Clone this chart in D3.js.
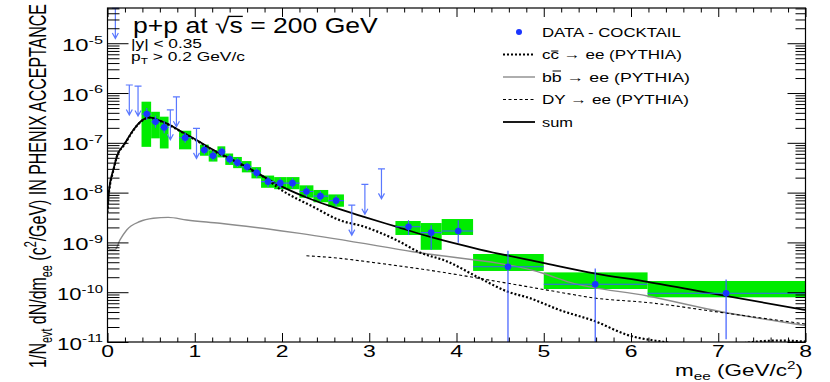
<!DOCTYPE html>
<html>
<head>
<meta charset="utf-8">
<script src="https://cdn.jsdelivr.net/npm/d3@7/dist/d3.min.js"></script>
<style>
  body { margin: 0; background: #fff; }
  text { font-family: "Liberation Sans", Arial, Helvetica, sans-serif; fill: #000; }
</style>
</head>
<body>
<svg id="chart" width="830" height="382"></svg>
<script>
//============================================================
// Data
//------------------------------------------------------------

// DATA - COCKTAIL points
var massPts  = [0.45, 0.55, 0.65, 0.89, 1.11, 1.21, 1.31, 1.40, 1.49, 1.60, 1.71, 1.84, 1.98, 2.12, 2.28, 2.44, 2.62, 3.45, 3.71, 4.02, 4.59, 5.59, 7.09];
var binLo    = [0.39, 0.50, 0.60, 0.82, 1.06, 1.16, 1.26, 1.35, 1.44, 1.54, 1.65, 1.76, 1.91, 2.05, 2.20, 2.36, 2.53, 3.30, 3.59, 3.83, 4.19, 5.00, 6.19];
var binHi    = [0.50, 0.60, 0.70, 0.96, 1.16, 1.26, 1.35, 1.44, 1.54, 1.65, 1.76, 1.91, 2.05, 2.20, 2.36, 2.53, 2.71, 3.59, 3.83, 4.19, 5.00, 6.19, 8.00];
var yieldPts = [3.8e-7, 2.65e-7, 2.04e-7, 1.26e-7, 7.2e-8, 5.5e-8, 6.6e-8, 4.7e-8, 4.0e-8, 3.3e-8, 2.5e-8, 1.66e-8, 1.55e-8, 1.55e-8, 1.05e-8, 8.5e-9, 6.9e-9, 2.07e-9, 1.57e-9, 1.70e-9, 3.25e-10, 1.44e-10, 9.5e-11];
var statHi   = [5.0e-7, 3.5e-7, 2.7e-7, 1.6e-7, 9.0e-8, 6.9e-8, 8.1e-8, 5.8e-8, 4.9e-8, 4.0e-8, 3.1e-8, 2.1e-8, 1.95e-8, 1.95e-8, 1.33e-8, 1.08e-8, 8.8e-9, 2.8e-9, 2.2e-9, 2.8e-9, 6.8e-10, 3.0e-10, 1.8e-10];
var statLo   = [2.9e-7, 2.0e-7, 1.55e-7, 1.0e-7, 5.8e-8, 4.4e-8, 5.4e-8, 3.8e-8, 3.3e-8, 2.7e-8, 2.0e-8, 1.3e-8, 1.22e-8, 1.22e-8, 8.3e-9, 6.7e-9, 5.4e-9, 1.41e-9, 7.1e-10, 9.8e-10, 1e-12, 1e-12, 1.13e-11];
var sysHi    = [6.7e-7, 4.2e-7, 3.35e-7, 1.75e-7, 9.2e-8, 7.1e-8, 8.5e-8, 6.1e-8, 5.2e-8, 4.3e-8, 3.25e-8, 2.2e-8, 2.05e-8, 2.05e-8, 1.4e-8, 1.13e-8, 9.2e-9, 2.69e-9, 2.45e-9, 2.95e-9, 5.85e-10, 2.5e-10, 1.68e-10];
var sysLo    = [8.3e-8, 1.23e-7, 7.7e-8, 7.4e-8, 5.5e-8, 4.2e-8, 5.1e-8, 3.6e-8, 3.1e-8, 2.55e-8, 1.93e-8, 1.25e-8, 1.17e-8, 1.17e-8, 7.9e-9, 6.4e-9, 5.2e-9, 1.41e-9, 7.1e-10, 1.41e-9, 2.67e-10, 1.16e-10, 7.9e-11];

// upper limits
var ulMass  = [0.09, 0.25, 0.35, 0.72, 0.79, 1.02, 2.80, 2.95, 3.14];
var ulValue = [5.0e-5, 1.45e-6, 1.38e-6, 4.6e-7, 8.4e-7, 1.95e-7, 5.6e-9, 1.47e-8, 3.0e-8];

// PYTHIA curves [mass, yield]
var ccCurve = [[0.00, 4.0e-9], [0.01, 7.6e-9], [0.03, 1.48e-8], [0.05, 2.14e-8], [0.066, 2.75e-8], [0.105, 5.1e-8],
    [0.20, 9.5e-8], [0.296, 1.78e-7], [0.39, 2.74e-7], [0.479, 3.2e-7], [0.60, 2.74e-7], [0.716, 2.24e-7],
    [0.85, 1.64e-7], [1.02, 1.11e-7], [1.20, 7.2e-8], [1.595, 3.16e-8], [1.80, 2.0e-8], [1.97, 1.2e-8],
    [2.357, 5.2e-9], [2.66, 2.8e-9], [2.93, 2.1e-9], [3.31, 1.12e-9], [3.58, 6.3e-10], [3.885, 4.2e-10],
    [4.27, 1.9e-10], [4.59, 1.02e-10], [4.84, 7.6e-11], [5.18, 4.4e-11], [5.59, 2.6e-11], [5.95, 1.4e-11],
    [6.48, 9.3e-12], [6.90, 6.3e-12], [7.30, 9.5e-12], [7.70, 1.07e-11], [8.00, 1.02e-11]];
var bbCurve = [[0.00, 8.5e-10], [0.03, 7.1e-10], [0.086, 7.1e-10], [0.143, 1.12e-9], [0.22, 1.78e-9], [0.372, 2.63e-9],
    [0.525, 3.05e-9], [0.696, 3.19e-9], [0.907, 2.82e-9], [1.289, 2.42e-9], [1.98, 1.72e-9], [2.205, 1.52e-9],
    [3.50, 6.5e-10], [4.99, 2.4e-10], [5.30, 1.58e-10], [6.19, 8.4e-11], [7.02, 4.1e-11], [8.00, 2.14e-11]];
var dyCurve = [[2.28, 5.4e-10], [2.55, 5.0e-10], [3.12, 3.8e-10], [3.58, 2.95e-10], [4.59, 1.51e-10], [5.18, 1.0e-10],
    [5.59, 7.6e-11], [6.19, 6.2e-11], [7.085, 3.8e-11], [8.00, 2.3e-11]];
var sumCurve = [[0.00, 4.5e-9], [0.01, 8.3e-9], [0.03, 1.58e-8], [0.05, 2.25e-8], [0.066, 2.84e-8], [0.105, 5.2e-8],
    [0.20, 9.8e-8], [0.296, 1.81e-7], [0.39, 2.78e-7], [0.479, 3.25e-7], [0.60, 2.78e-7], [0.716, 2.28e-7],
    [0.85, 1.67e-7], [1.02, 1.14e-7], [1.20, 7.4e-8], [1.595, 3.3e-8], [1.976, 1.38e-8], [2.357, 7.1e-9],
    [2.548, 5.4e-9], [2.93, 3.3e-9], [3.31, 2.07e-9], [3.69, 1.30e-9], [4.27, 7.2e-10], [4.99, 3.9e-10],
    [5.58, 2.4e-10], [6.19, 1.62e-10], [7.02, 8.8e-11], [8.00, 4.4e-11]];

var xTicks = [0, 1, 2, 3, 4, 5, 6, 7, 8];
var yDecades = [-11, -10, -9, -8, -7, -6, -5];
var legendLabels = ["DATA - COCKTAIL", "cc \u2192 ee (PYTHIA)", "bb \u2192 ee (PYTHIA)", "DY \u2192 ee (PYTHIA)", "sum"];

//============================================================
// Layout
//------------------------------------------------------------

var svg = d3.select("#chart"),
    plot = {left: 107.5, right: 805.5, top: 8, bottom: 342},
    green = "#00ec00", blue = "#1a35ff", errBlue = "#3d5cff", limBlue = "#5a78ff";

var x = d3.scaleLinear().domain([0, 8]).range([plot.left, plot.right]);
var y = d3.scaleLog().domain([1e-11, 5.1e-5]).range([plot.bottom, plot.top]);

svg.append("clipPath").attr("id", "clip")
  .append("rect")
    .attr("x", plot.left).attr("y", plot.top)
    .attr("width", plot.right - plot.left).attr("height", plot.bottom - plot.top);

// rich text: parts = [[str, "n"|"sub"|"sup"], ...]
function rich(parent, parts, size) {
    var t = parent.append("text").style("font-size", size + "px"), shift = 0;
    parts.forEach(function (p) {
        var kind = p[1] || "n",
            target = kind === "sub" ? size * 0.24 : kind === "sup" ? -size * 0.42 : 0;
        t.append("tspan").text(p[0])
          .attr("dy", target - shift)
          .style("font-size", (kind === "n" ? size : size * 0.68) + "px");
        shift = target;
    });
    return t;
}

// put text at (px,py), stretched horizontally to a given width
function fitted(parts, size, px, py, width, anchor) {
    var g = svg.append("g"), t = rich(g, parts, size).attr("text-anchor", anchor || "start");
    var s = width / t.node().getComputedTextLength();
    g.attr("transform", "translate(" + px + "," + py + ") scale(" + s + ",1)");
    return t;
}

function overline(t, idx, lift) {
    var e = t.node().getExtentOfChar(idx), g = d3.select(t.node().parentNode);
    g.append("line")
      .attr("x1", e.x + 0.5).attr("x2", e.x + e.width - 0.5)
      .attr("y1", -lift).attr("y2", -lift)
      .attr("stroke", "#000").attr("stroke-width", 1);
}

//============================================================
// Data marks
//------------------------------------------------------------

var marks = svg.append("g").attr("clip-path", "url(#clip)");
var idx = d3.range(massPts.length);

marks.selectAll("rect.sys").data(idx).enter().append("rect")
    .attr("class", "sys")
    .attr("x", function (i) { return x(binLo[i]); })
    .attr("width", function (i) { return x(binHi[i]) - x(binLo[i]); })
    .attr("y", function (i) { return y(sysHi[i]); })
    .attr("height", function (i) { return y(sysLo[i]) - y(sysHi[i]); })
    .attr("fill", green);

var line = d3.line()
    .x(function (d) { return x(d[0]); })
    .y(function (d) { return y(d[1]); })
    .curve(d3.curveMonotoneX);

marks.append("path").datum(bbCurve).attr("d", line)
    .attr("fill", "none").attr("stroke", "#8c8c8c").attr("stroke-width", 1.4);
marks.append("path").datum(dyCurve).attr("d", line)
    .attr("fill", "none").attr("stroke", "#000").attr("stroke-width", 1.1).attr("stroke-dasharray", "3,2.5");
marks.append("path").datum(ccCurve).attr("d", line)
    .attr("fill", "none").attr("stroke", "#000").attr("stroke-width", 2.2).attr("stroke-dasharray", "2,2");
marks.append("path").datum(sumCurve).attr("d", line)
    .attr("fill", "none").attr("stroke", "#000").attr("stroke-width", 1.8);

// error bars
marks.selectAll("line.ex").data(idx).enter().append("line")
    .attr("class", "ex")
    .attr("x1", function (i) { return x(binLo[i]); })
    .attr("x2", function (i) { return x(binHi[i]); })
    .attr("y1", function (i) { return y(yieldPts[i]); })
    .attr("y2", function (i) { return y(yieldPts[i]); })
    .attr("stroke", errBlue).attr("stroke-width", 1.1);
marks.selectAll("line.ey").data(idx).enter().append("line")
    .attr("class", "ey")
    .attr("x1", function (i) { return x(massPts[i]); })
    .attr("x2", function (i) { return x(massPts[i]); })
    .attr("y1", function (i) { return y(statHi[i]); })
    .attr("y2", function (i) { return y(statLo[i]); })
    .attr("stroke", errBlue).attr("stroke-width", 1.2);

marks.selectAll("circle.pt").data(idx).enter().append("circle")
    .attr("class", "pt")
    .attr("cx", function (i) { return x(massPts[i]); })
    .attr("cy", function (i) { return y(yieldPts[i]); })
    .attr("r", 3.3)
    .attr("fill", blue);

// upper limit arrows
var ul = svg.append("g").selectAll("g").data(d3.range(ulMass.length)).enter().append("g")
    .attr("transform", function (i) { return "translate(" + x(ulMass[i]) + "," + y(ulValue[i]) + ")"; })
    .attr("stroke", limBlue).attr("stroke-width", 1.2).attr("fill", "none");
ul.append("path").attr("d", "M-3.5,0H3.5M0,0V30M-3,24.5L0,30L3,24.5");

//============================================================
// Frame and axes
//------------------------------------------------------------

var xMinor = d3.range(0, 8.001, 0.2).filter(function (v) { return Math.abs(v - Math.round(v)) > 1e-6; });
var yMinor = [];
yDecades.forEach(function (e) {
    d3.range(2, 10).forEach(function (k) {
        var v = k * Math.pow(10, e);
        if (v < 5.1e-5) yMinor.push(v);
    });
});
var yMajor = yDecades.map(function (e) { return Math.pow(10, e); });

function ticks(axis, vals, size, transform) {
    var g = svg.append("g").attr("transform", transform)
        .call(axis.tickValues(vals).tickSize(size).tickFormat(""));
    g.select(".domain").remove();
    g.selectAll("line").attr("stroke-width", 1);
    return g;
}

ticks(d3.axisBottom(x), xTicks, -9, "translate(0," + plot.bottom + ")");
ticks(d3.axisBottom(x), xMinor, -4.5, "translate(0," + plot.bottom + ")");
ticks(d3.axisTop(x), xTicks, -9, "translate(0," + plot.top + ")");
ticks(d3.axisTop(x), xMinor, -4.5, "translate(0," + plot.top + ")");
ticks(d3.axisLeft(y), yMajor, -21, "translate(" + plot.left + ",0)");
ticks(d3.axisLeft(y), yMinor, -12, "translate(" + plot.left + ",0)");
ticks(d3.axisRight(y), yMajor, -18, "translate(" + plot.right + ",0)");
ticks(d3.axisRight(y), yMinor, -10, "translate(" + plot.right + ",0)");

svg.append("rect")
    .attr("x", plot.left).attr("y", plot.top)
    .attr("width", plot.right - plot.left).attr("height", plot.bottom - plot.top)
    .attr("fill", "none").attr("stroke", "#000").attr("stroke-width", 1.2);

// tick labels
xTicks.forEach(function (v) {
    var g = svg.append("g").attr("transform", "translate(" + x(v) + ",356.5) scale(1.35,1)");
    rich(g, [[String(v)]], 17).attr("text-anchor", "middle");
});
yDecades.forEach(function (e) {
    var w = e <= -10 ? 46 : 41;
    fitted([["10"], [String(e), "sup"]], 17, 103, y(Math.pow(10, e)) + 7.5, w, "end");
});

//============================================================
// Titles and annotations
//------------------------------------------------------------

var title = fitted([["p+p at \u221As = 200 GeV"]], 22, 133, 33, 245);
(function () {
    var r = title.node().getExtentOfChar(7), s = title.node().getExtentOfChar(8),
        g = d3.select(title.node().parentNode);
    g.append("line")
      .attr("x1", r.x + r.width - 0.8).attr("x2", s.x + s.width)
      .attr("y1", -16.6).attr("y2", -16.6)
      .attr("stroke", "#000").attr("stroke-width", 1.3);
})();

fitted([["|y| < 0.35"]], 12, 131, 48, 71);
fitted([["p"], ["T", "sub"], [" > 0.2 GeV/c"]], 12, 131, 61, 114);

fitted([["m"], ["ee", "sub"], [" (GeV/c"], ["2", "sup"], [")"]], 16, 803, 376, 128, "end");

(function () {
    var g = svg.append("g"),
        t = rich(g, [["1/N"], ["evt", "sub"], [" dN/dm"], ["ee", "sub"], [" (c"], ["2", "sup"],
            ["/GeV) IN PHENIX ACCEPTANCE"]], 23).attr("text-anchor", "middle");
    var s = 364 / t.node().getComputedTextLength();
    g.attr("transform", "translate(46,186) rotate(-90) scale(" + s + ",1)");
})();

//============================================================
// Legend
//------------------------------------------------------------

var rowY = [32, 54.5, 77, 99.5, 122],
    rowW = [139, 140, 148, 147, 31];

svg.append("circle").attr("cx", 519).attr("cy", rowY[0]).attr("r", 3).attr("fill", blue);
var sample = [null,
    {stroke: "#000", w: 2.2, dash: "2,2"},
    {stroke: "#8c8c8c", w: 1.4, dash: null},
    {stroke: "#000", w: 1.1, dash: "3,2.5"},
    {stroke: "#000", w: 1.8, dash: null}];
sample.forEach(function (s, i) {
    if (!s) return;
    svg.append("line")
      .attr("x1", 503).attr("x2", 535).attr("y1", rowY[i]).attr("y2", rowY[i])
      .attr("stroke", s.stroke).attr("stroke-width", s.w).attr("stroke-dasharray", s.dash);
});
legendLabels.forEach(function (lab, i) {
    var t = fitted([[lab]], 13, 542, rowY[i] + 4.5, rowW[i]);
    if (i === 1) overline(t, 1, 8);
    if (i === 2) overline(t, 1, 10.5);
});
</script>
</body>
</html>
